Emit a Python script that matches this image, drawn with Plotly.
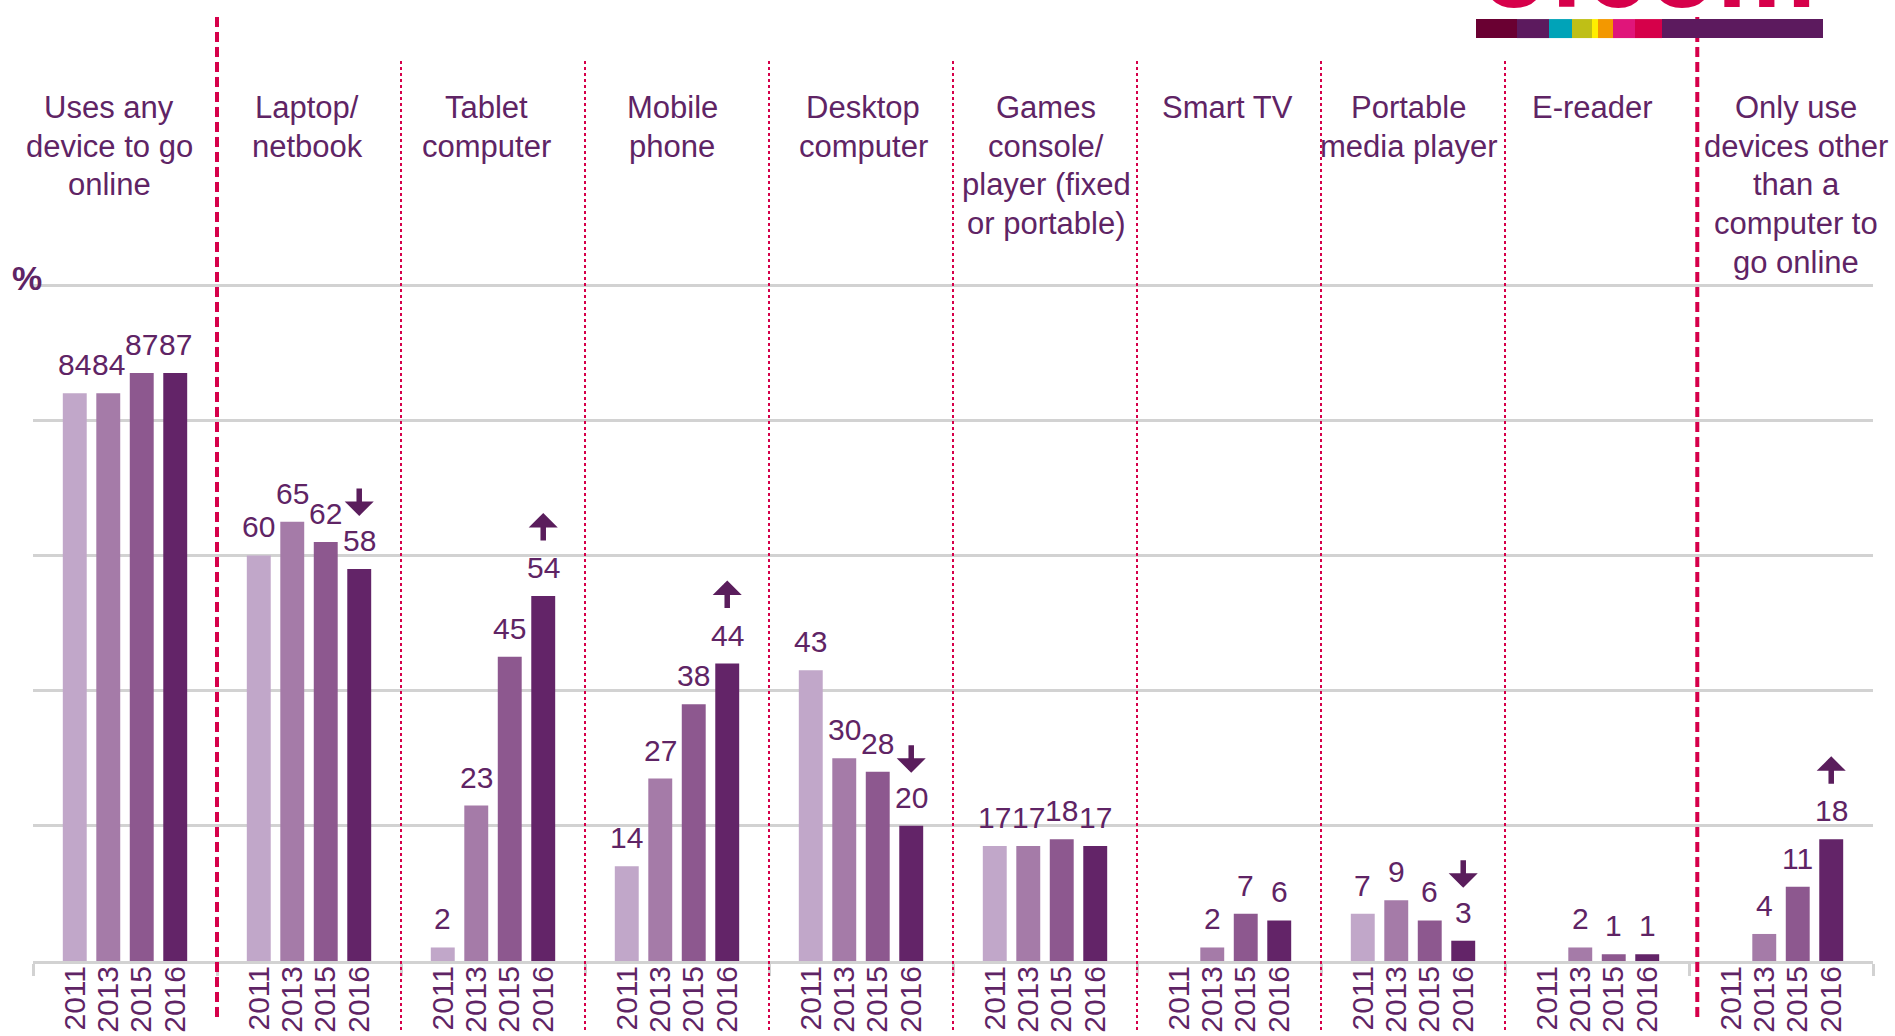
import plotly.graph_objects as go

# ---------------- data ----------------
categories = [
    ["Uses any", "device to go", "online"],
    ["Laptop/", "netbook"],
    ["Tablet", "computer"],
    ["Mobile", "phone"],
    ["Desktop", "computer"],
    ["Games", "console/", "player (fixed", "or portable)"],
    ["Smart TV"],
    ["Portable", "media player"],
    ["E-reader"],
    ["Only use", "devices other", "than a", "computer to", "go online"],
]
years = ["2011", "2013", "2015", "2016"]
v2011 = [84, 60, 2, 14, 43, 17, None, 7, None, None]
v2013 = [84, 65, 23, 27, 30, 17, 2, 9, 2, 4]
v2015 = [87, 62, 45, 38, 28, 18, 7, 6, 1, 11]
v2016 = [87, 58, 54, 44, 20, 17, 6, 3, 1, 18]
trend_2016 = [None, "down", "up", "up", "down", None, None, "down", None, "up"]
series = [v2011, v2013, v2015, v2016]
colors = ["#c1a7c9", "#a57ba8", "#8d588f", "#632468"]

# ---------------- styling ----------------
W, H = 1895, 1036
YMAX = 100.6
L, R, B = 33, 1873, 961
T = B - (B - 285) * YMAX / 100.0  # so that 100 sits at y=285 px
TXT = "#5f2465"
RED = "#d6004a"
GRID = "#d2d2d2"
FONT = "Arial, Liberation Sans, sans-serif"
offs = [-0.273, -0.091, 0.091, 0.273]
header_dx_px = [-16, -2, -7, -5, 2, 1, -2, -5, -5, 15]
n = len(categories)


def px_x(px):
    return (px - L) / (R - L)


def px_y(py):
    return (B - py) / (B - T)


fig = go.Figure()
for j, (yr, vals) in enumerate(zip(years, series)):
    fig.add_trace(go.Bar(
        x=[g + offs[j] for g in range(n)],
        y=vals,
        width=0.13,
        marker=dict(color=colors[j], line=dict(width=0)),
        name=yr,
        showlegend=False,
        hoverinfo="x+y",
    ))

annotations = []
# value labels
for j, vals in enumerate(series):
    for g, v in enumerate(vals):
        if v is None:
            continue
        annotations.append(dict(
            x=g + offs[j], y=v, xref="x", yref="y", text=str(v),
            showarrow=False, xanchor="center", yanchor="bottom", yshift=10,
            font=dict(size=30, color=TXT, family=FONT),
        ))
# trend arrows
for g, tr in enumerate(trend_2016):
    if tr is None:
        continue
    annotations.append(dict(
        x=g + offs[3], y=v2016[g], xref="x", yref="y", text="",
        showarrow=True, arrowhead=1, arrowsize=0.88, arrowwidth=5.5,
        arrowcolor="#5a1d5c", standoff=0, startstandoff=0,
        ax=0, ay=(-29 if tr == "down" else 29),
        yshift=(53 if tr == "down" else 83),
    ))
# category headers (one annotation per line)
for g, lines in enumerate(categories):
    for k, line in enumerate(lines):
        annotations.append(dict(
            x=g, y=px_y(88), xref="x", yref="paper", text=line,
            showarrow=False, xanchor="center", yanchor="top",
            xshift=header_dx_px[g], yshift=-k * 38.7,
            font=dict(size=31, color=TXT, family=FONT),
        ))
# % sign
annotations.append(dict(
    x=px_x(10), y=px_y(278), xref="paper", yref="paper", text="<b>%</b>",
    showarrow=False, xanchor="left", yanchor="middle",
    font=dict(size=34, color=TXT, family=FONT),
))
# logo wordmark (mostly cut off at the top of the page, as in the source)
annotations.append(dict(
    x=px_x(1478), y=px_y(33), xref="paper", yref="paper", text="<b>ofcom</b>",
    showarrow=False, xanchor="left", yanchor="bottom",
    font=dict(size=112, color=RED, family=FONT),
))

shapes = []
# dotted dividers
for b in range(1, n - 2):
    shapes.append(dict(type="line", xref="x", yref="paper",
                       x0=b + 0.5, x1=b + 0.5, y0=px_y(1030), y1=px_y(58),
                       line=dict(color=RED, width=2, dash="dot"), layer="above"))
# dashed dividers
for bx in [0.5, n - 1.5 + 0.045]:
    shapes.append(dict(type="line", xref="x", yref="paper",
                       x0=bx, x1=bx, y0=px_y(1017), y1=px_y(12),
                       line=dict(color=RED, width=4, dash="10px,5px"), layer="above"))
# logo colour bar
logo_edges = [1476, 1517, 1549, 1572, 1592, 1598, 1613, 1635, 1662, 1823]
logo_cols = ["#6a0032", "#5c1a5e", "#00a3b8", "#bfbf16", "#ffee00",
             "#f39800", "#e0157a", "#d6004a", "#5c1a5e"]
for a, b, c in zip(logo_edges[:-1], logo_edges[1:], logo_cols):
    shapes.append(dict(type="rect", xref="paper", yref="paper",
                       x0=px_x(a), x1=px_x(b), y0=px_y(38), y1=px_y(19),
                       line=dict(width=0), fillcolor=c, layer="above"))

tickvals = [g + o for g in range(n) for o in offs]
ticktext = years * n

fig.update_layout(
    width=W, height=H,
    margin=dict(l=L, r=W - R, t=T, b=H - B, pad=0, autoexpand=False),
    paper_bgcolor="white", plot_bgcolor="white",
    barmode="overlay",
    font=dict(family=FONT, color=TXT),
    xaxis=dict(
        range=[-0.5, n - 0.5], fixedrange=True, automargin=False,
        tickmode="array", tickvals=tickvals, ticktext=ticktext,
        tickangle=-90, tickfont=dict(size=30, color=TXT, family=FONT),
        ticks="", ticklabelstandoff=-10, showgrid=False, zeroline=False,
        showline=True, linecolor=GRID, linewidth=3,
        minor=dict(tickmode="linear", tick0=-0.5, dtick=1, ticks="outside",
                   ticklen=12, tickwidth=3, tickcolor=GRID, showgrid=False),
    ),
    yaxis=dict(
        range=[0, YMAX], fixedrange=True, automargin=False,
        tickmode="array", tickvals=[0, 20, 40, 60, 80, 100],
        showticklabels=False, ticks="",
        showgrid=True, gridcolor=GRID, gridwidth=3, zeroline=False,
    ),
    annotations=annotations,
    shapes=shapes,
)

fig.write_html(
    "out.html",
    config={"displayModeBar": False},
    post_script="document.body.style.margin='0';document.body.style.overflow='hidden';",
)
